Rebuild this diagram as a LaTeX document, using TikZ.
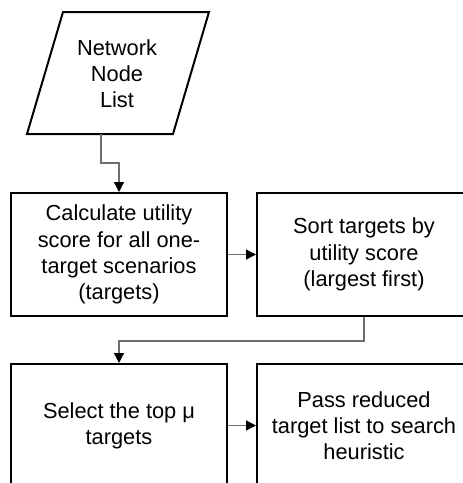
\documentclass[tikz,border=0pt]{standalone}
\usepackage{fontspec}
\setmainfont{Liberation Sans}
\usetikzlibrary{arrows.meta}
\definecolor{conngray}{HTML}{6E6E6E}
\tikzset{
  x=1pt, y=-1pt,
  txt/.style={font=\fontsize{21.8}{26.2}\selectfont, align=center, inner sep=0pt},
  stepbox/.style={draw=black, line width=2pt, minimum height=123pt, inner sep=0pt, font=\fontsize{21.8}{26.2}\selectfont, align=center},
  conn/.style={draw=conngray, line width=1.3pt, -{Triangle[length=10pt,width=10pt,color=black]}}
}
\begin{document}
\begin{tikzpicture}
\useasboundingbox (0,0) rectangle (463,483);
\clip (0,0) rectangle (463,483);
\fill[white] (0,0) rectangle (463,483);
% parallelogram
\coordinate (ptl) at (63,12);
\coordinate (ptr) at (209,12);
\coordinate (pbr) at (173,134);
\coordinate (pbl) at (27,134);
\coordinate (pb) at (101,134);
\draw[line width=2pt, line join=miter] (ptl) -- (ptr) -- (pbr) -- (pbl) -- cycle;
\node[txt] (net) at (117,74) {Network\\Node\\List};
% boxes
\node[stepbox, minimum width=216pt] (c1) at (119,254.5) {Calculate utility\\score for all one-\\target scenarios\\(targets)};
\node[stepbox, minimum width=214pt] (c2) at (364,254.5) {Sort targets by\\utility score\\(largest first)};
\node[stepbox, minimum width=216pt] (c3) at (119,425.5) {Select the top μ\\targets};
\node[stepbox, minimum width=214pt] (c4) at (364,425.5) {Pass reduced\\target list to search\\heuristic};
% connectors
\draw[conn] (pb) -- (101,163) -| (c1);
\draw[conn] (c1) -- (c2);
\draw[conn] (c2.south) -- ++(0,24) -| (c3);
\draw[conn] (c3) -- (c4);
\end{tikzpicture}
\end{document}
